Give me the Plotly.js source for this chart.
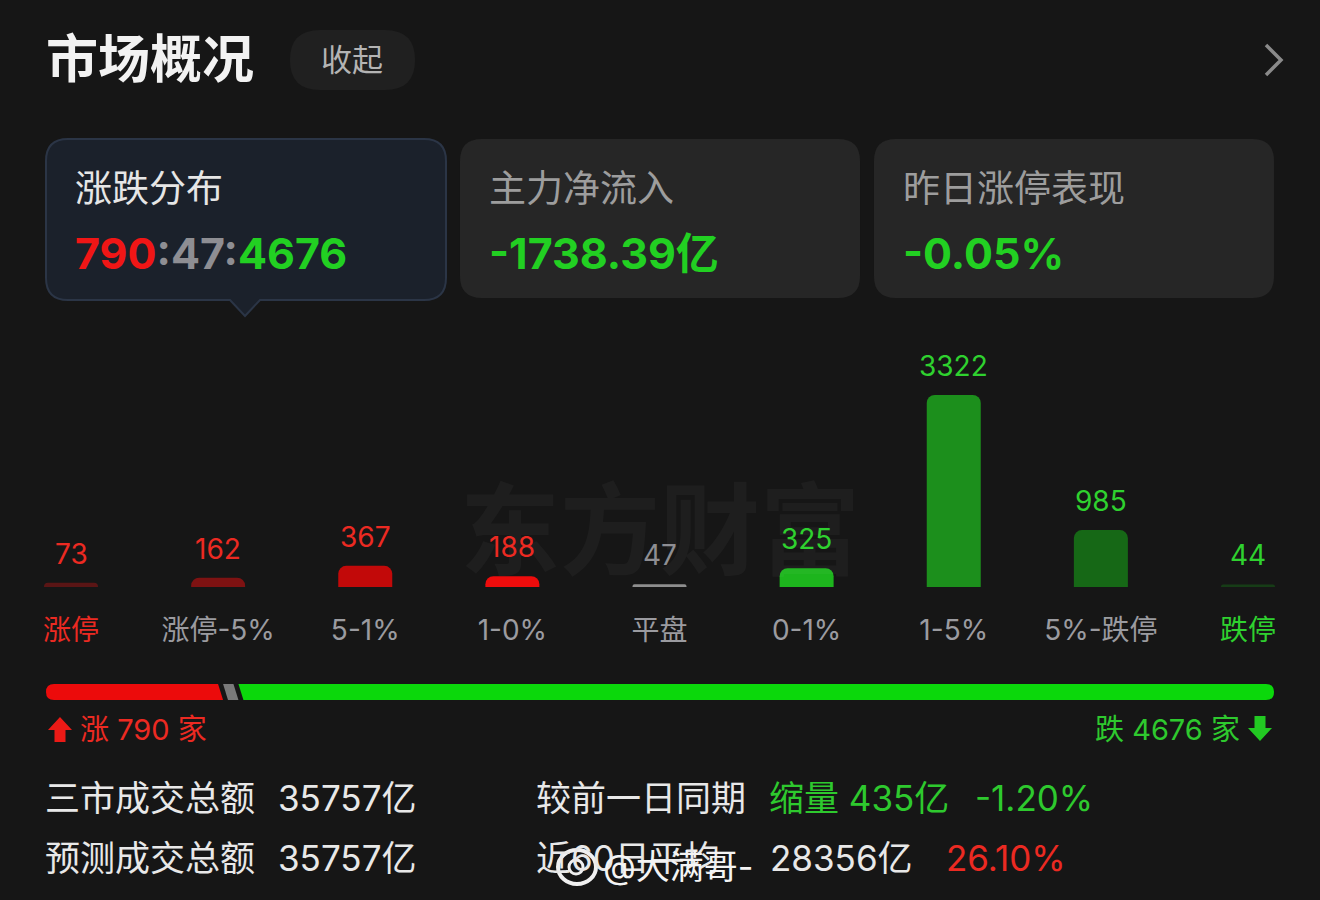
<!DOCTYPE html>
<html>
<head>
<meta charset="utf-8">
<script src="https://cdn.plot.ly/plotly-3.0.1.min.js"></script>
<style>html,body{margin:0;padding:0;background:#161616;}#chart{width:1320px;height:900px;}</style>
</head>
<body>
<div id="chart"></div>
<script>
// ---------------- data ----------------
const categories = ['涨停', '涨停-5%', '5-1%', '1-0%', '平盘', '0-1%', '1-5%', '5%-跌停', '跌停'];
const counts = [73, 162, 367, 188, 47, 325, 3322, 985, 44];
const upCount = 790;
const flatCount = 47;
const downCount = 4676;
const cardTitles = ['涨跌分布', '主力净流入', '昨日涨停表现'];
const netInflow = '-1738.39亿';
const limitUpPerf = '-0.05%';
const turnoverLabels = ['三市成交总额', '预测成交总额'];
const turnoverValues = ['35757亿', '35757亿'];
const compareLabels = ['较前一日同期', '近60日平均'];
const compareAmounts = ['缩量 435亿', '28356亿'];
const comparePcts = ['-1.20%', '26.10%'];

// ---------------- styles ----------------
const FONT = 'Inter, "Noto Sans CJK SC", "Noto Sans", sans-serif';
const RED = '#f01616', GREEN = '#22d022', GRAY = '#8e8e93';
const barColors = ['#5a1515', '#7e1212', '#c20909', '#ee0c0c', '#8e8e8e', '#1db51d', '#1c8f1c', '#166816', '#163c16'];
const valueColors = ['#ec2a22', '#ec2a22', '#ec2a22', '#ec2a22', '#8e8e93', '#2fd12f', '#2fd12f', '#2fd12f', '#2fd12f'];
const tickColors = ['#ec2a22', '#9b9ba0', '#9b9ba0', '#9b9ba0', '#9b9ba0', '#9b9ba0', '#9b9ba0', '#9b9ba0', '#2fd12f'];

const W = 1320, H = 900;
function X(p) { return p / W; }
function Y(p) { return 1 - p / H; }
function pt(x, y) { return X(x).toFixed(5) + ',' + Y(y).toFixed(5); }
function rrect(x0, y0, x1, y1, r, pointer) {
  let s = 'M' + pt(x0 + r, y0) + ' L' + pt(x1 - r, y0) + ' Q' + pt(x1, y0) + ' ' + pt(x1, y0 + r) +
    ' L' + pt(x1, y1 - r) + ' Q' + pt(x1, y1) + ' ' + pt(x1 - r, y1);
  if (pointer) {
    s += ' L' + pt(pointer + 15, y1) + ' L' + pt(pointer, y1 + 16) + ' L' + pt(pointer - 15, y1);
  }
  s += ' L' + pt(x0 + r, y1) + ' Q' + pt(x0, y1) + ' ' + pt(x0, y1 - r) +
    ' L' + pt(x0, y0 + r) + ' Q' + pt(x0, y0) + ' ' + pt(x0 + r, y0) + ' Z';
  return s;
}
function pathShape(path, fill, line, lw) {
  return { type: 'path', xref: 'paper', yref: 'paper', path: path, fillcolor: fill || 'rgba(0,0,0,0)',
    line: { color: line || 'rgba(0,0,0,0)', width: lw || 0 }, layer: 'below' };
}
function txt(x, y, text, size, color, anchor) {
  const a = anchor || 'left';
  const dx = a === 'left' ? -3 : (a === 'right' ? 3 : 0);
  return { xref: 'paper', yref: 'paper', x: X(x + dx), y: Y(y), xanchor: a, yanchor: 'middle',
    text: text, showarrow: false, font: { family: FONT, size: size, color: color } };
}

const shapes = [];
const annotations = [];

// header
annotations.push(txt(47, 60, '<b>市场概况</b>', 52, '#f2f2f2'));
shapes.push(pathShape(rrect(290, 30, 415, 90, 30), '#202020'));
annotations.push(txt(352, 60, '收起', 31, '#b4b4b4', 'center'));
shapes.push(pathShape('M' + pt(1266, 45) + ' L' + pt(1281, 60) + ' L' + pt(1266, 75), null, '#8a8a8a', 3.5));

// cards
shapes.push(pathShape(rrect(46, 139, 446, 300, 22, 245), '#1b212b', '#2b3546', 2));
shapes.push(pathShape(rrect(460, 139, 860, 298, 22), '#262626'));
shapes.push(pathShape(rrect(874, 139, 1274, 298, 22), '#262626'));
annotations.push(txt(76, 188, cardTitles[0], 37, '#e6e6e6'));
annotations.push(txt(490, 188, cardTitles[1], 37, '#9d9d9d'));
annotations.push(txt(904, 188, cardTitles[2], 37, '#9d9d9d'));
annotations.push(txt(76, 253, '<b><span style="color:' + RED + '">' + upCount + '</span><span style="color:#8e8e93">:' + flatCount +
  ':</span><span style="color:' + GREEN + '">' + downCount + '</span></b>', 43, '#fff'));
annotations.push(txt(490, 253, '<b>' + netInflow + '</b>', 43, GREEN));
annotations.push(txt(904, 253, '<b>' + limitUpPerf + '</b>', 43, GREEN));

// watermark
annotations.push(txt(660, 530, '<b>东方财富</b>', 100, 'rgba(255,255,255,0.035)', 'center'));

// value labels above bars
counts.forEach(function (v, i) {
  annotations.push({ xref: 'x', yref: 'y', x: categories[i], y: v, yanchor: 'bottom', yshift: 10, showarrow: false,
    text: String(v), font: { family: FONT, size: 28, color: valueColors[i] } });
});

// progress bar
const total = upCount + flatCount + downCount;
const bx0 = 46, bx1 = 1274, by0 = 684, by1 = 700, gap = 5, sl = 5, br = 8;
const avail = (bx1 - bx0) - 2 * gap;
const redEnd = bx0 + avail * upCount / total;
const grayStart = redEnd + gap;
const grayEnd = grayStart + avail * flatCount / total;
const greenStart = grayEnd + gap;
const my = (by0 + by1) / 2;
shapes.push(pathShape('M' + pt(bx0 + br, by0) + ' L' + pt(redEnd - sl / 2, by0) + ' L' + pt(redEnd + sl / 2, by1) +
  ' L' + pt(bx0 + br, by1) + ' Q' + pt(bx0, by1) + ' ' + pt(bx0, my) + ' Q' + pt(bx0, by0) + ' ' + pt(bx0 + br, by0) + ' Z', '#ec0b0b'));
shapes.push(pathShape('M' + pt(grayStart - sl / 2, by0) + ' L' + pt(grayEnd - sl / 2, by0) + ' L' + pt(grayEnd + sl / 2, by1) +
  ' L' + pt(grayStart + sl / 2, by1) + ' Z', '#7a7a7a'));
shapes.push(pathShape('M' + pt(greenStart - sl / 2, by0) + ' L' + pt(bx1 - br, by0) + ' Q' + pt(bx1, by0) + ' ' + pt(bx1, my) +
  ' Q' + pt(bx1, by1) + ' ' + pt(bx1 - br, by1) + ' L' + pt(greenStart + sl / 2, by1) + ' Z', '#0bd80b'));

// up / down arrows and counts
shapes.push(pathShape('M' + pt(60, 717) + ' L' + pt(72, 730) + ' L' + pt(65.5, 730) + ' L' + pt(65.5, 742) + ' L' + pt(54.5, 742) +
  ' L' + pt(54.5, 730) + ' L' + pt(48, 730) + ' Z', '#ec1a16'));
annotations.push(txt(81, 729, '涨 ' + upCount + ' 家', 29, '#ec2a22'));
shapes.push(pathShape('M' + pt(1260, 741) + ' L' + pt(1272, 728) + ' L' + pt(1265.5, 728) + ' L' + pt(1265.5, 716) + ' L' + pt(1254.5, 716) +
  ' L' + pt(1254.5, 728) + ' L' + pt(1248, 728) + ' Z', '#22c922'));
annotations.push(txt(1239, 729, '跌 ' + downCount + ' 家', 29, '#2ec92e', 'right'));

// turnover rows
const rowsY = [798, 858];
[0, 1].forEach(function (i) {
  annotations.push(txt(46, rowsY[i], turnoverLabels[i], 35, '#e8e8e8'));
  annotations.push(txt(279, rowsY[i], turnoverValues[i], 35, '#e8e8e8'));
  annotations.push(txt(537, rowsY[i], compareLabels[i], 35, '#e8e8e8'));
});
annotations.push(txt(770, 798, compareAmounts[0], 35, '#2ec92e'));
annotations.push(txt(976, 798, comparePcts[0], 35, '#2ec92e'));
annotations.push(txt(771, 858, compareAmounts[1], 35, '#e8e8e8'));
annotations.push(txt(947, 858, comparePcts[1], 35, '#ec2a22'));

// weibo watermark
shapes.push({ type: 'circle', xref: 'paper', yref: 'paper', x0: X(558), x1: X(596), y0: Y(850), y1: Y(884),
  fillcolor: 'rgba(0,0,0,0)', line: { color: '#f0f0f0', width: 4 } });
shapes.push({ type: 'circle', xref: 'paper', yref: 'paper', x0: X(569), x1: X(583), y0: Y(860), y1: Y(874),
  fillcolor: 'rgba(0,0,0,0)', line: { color: '#f0f0f0', width: 3 } });
annotations.push(txt(604, 866, '@大满哥-', 34, '#f4f4f4'));

// bar chart
const pxPerUnit = 192 / 3322;
const baseline = 587;
const trace = {
  type: 'bar', x: categories, y: counts, width: 0.367,
  marker: { color: barColors, cornerradius: 8 },
  hoverinfo: 'none'
};
const layout = {
  width: W, height: H,
  margin: { l: 0, r: 0, t: 0, b: 0 },
  paper_bgcolor: '#161616', plot_bgcolor: 'rgba(0,0,0,0)',
  showlegend: false,
  xaxis: {
    domain: [0, 1], type: 'category', range: [-71 / 147.125, (W - 71) / 147.125],
    showgrid: false, zeroline: false, showline: false, ticks: '',
    tickmode: 'array', tickvals: categories,
    ticktext: categories.map(function (c, i) { return '<span style="color:' + tickColors[i] + '">' + c + '</span>'; }),
    tickfont: { family: FONT, size: 28, color: '#9b9ba0' }, ticklabelstandoff: 24, fixedrange: true
  },
  yaxis: {
    domain: [1 - baseline / H, 1], range: [0, baseline / pxPerUnit],
    showgrid: false, zeroline: false, showline: false, showticklabels: false, fixedrange: true
  },
  shapes: shapes,
  annotations: annotations
};
Plotly.newPlot('chart', [trace], layout, { displayModeBar: false, staticPlot: true });
</script>
</body>
</html>
